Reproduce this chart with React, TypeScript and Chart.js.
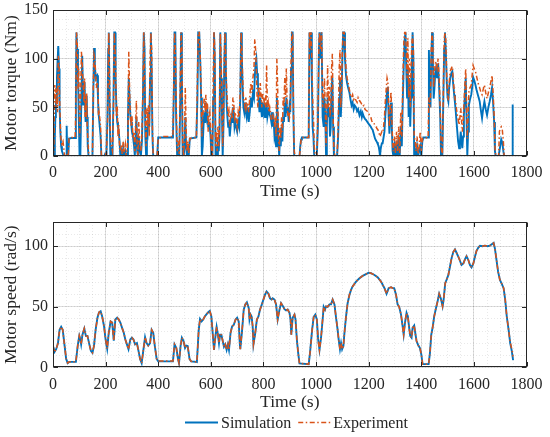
import React, { useEffect, useRef } from "react";
import { Chart, registerables } from "chart.js";

Chart.register(...registerables);

// ---------------- data ----------------
const seriesNames = ["Simulation", "Experiment"];

const torqueTime = [
  0, 3, 5, 7, 9, 11, 13, 15, 17, 20, 23, 25, 28, 31, 34, 38, 41, 44, 50, 52, 54, 58,
  61, 70, 84, 87, 89, 92, 95, 98, 101, 104, 108, 111, 115, 118, 120, 122, 124, 127, 128, 130, 132, 135, 137, 150,
  153, 156, 159, 162, 165, 168, 171, 173, 175, 178, 181, 184, 195, 198, 203, 207, 210, 212, 215, 218, 222, 226, 230, 233, 236, 238, 241, 244, 247, 250, 253, 256,
  260, 263, 267, 270, 275, 278, 282, 285, 288, 291, 294, 297, 300, 304, 308, 311, 314, 317, 320, 323, 326, 330, 334, 338, 342, 345, 348, 351, 354, 357, 360, 363, 366, 369, 372, 375, 378, 381, 396,
  400, 420, 456, 459, 462, 465, 468, 472, 476, 480, 484, 487, 490, 493, 497, 500, 503, 506, 509, 513, 516, 520, 545,
  549, 552, 556, 560, 563, 566, 569, 572, 575, 578, 581, 584, 587, 590, 593, 596, 599, 602, 606, 609, 612, 615, 618, 621, 624, 627, 630, 633, 636, 639, 642, 645,
  648, 651, 654, 657, 660, 663, 666, 669, 672, 675, 678, 681, 684, 687, 690, 693, 696, 700, 704, 708, 712, 715, 718, 721, 724, 727, 730, 733, 736, 740, 744, 748,
  752, 756, 760, 764, 767, 770, 773, 776, 779, 782, 785, 788, 791, 794, 797, 800, 803, 806, 809, 812, 815, 818, 821, 824, 827, 830, 833, 836, 839, 842, 845, 848, 851,
  854, 857, 860, 863, 866, 869, 872, 875, 878, 881, 884, 887, 890, 893, 896, 899, 902, 905, 908, 911, 914, 917, 920, 937, 940, 943, 946, 972, 975, 978, 981, 984, 987, 990, 993, 997, 1003,
  1007, 1011, 1013, 1017, 1021, 1025, 1029, 1032, 1035, 1038, 1041, 1044, 1047, 1050, 1053, 1056, 1059, 1062, 1065, 1068, 1072, 1080, 1084, 1088, 1091, 1094, 1097, 1100, 1103, 1107, 1110,
  1114, 1118, 1122, 1127, 1131, 1135, 1139, 1143, 1147, 1152, 1156, 1160, 1165, 1170, 1174, 1177, 1182, 1186, 1190, 1195, 1200, 1203, 1208, 1212, 1215, 1220, 1224, 1228, 1232, 1235, 1238, 1241, 1243, 1246, 1250, 1253, 1256,
  1260, 1263, 1267, 1270, 1273, 1276, 1279, 1282, 1285, 1288, 1291, 1294, 1298, 1302, 1306, 1310, 1314, 1318, 1322, 1326, 1330, 1334, 1337, 1340, 1343, 1346, 1349, 1352, 1355, 1358, 1361, 1364, 1367, 1370, 1373, 1377, 1380, 1384, 1388, 1392, 1396, 1400, 1404, 1408, 1426,
  1429, 1432, 1435, 1438, 1441, 1444, 1447, 1450, 1453, 1456, 1460, 1464, 1468, 1472, 1475, 1480, 1484, 1487, 1490, 1493, 1497, 1500, 1503, 1506, 1510, 1514, 1518, 1521, 1525, 1528, 1531,
  1534, 1537, 1540, 1544, 1547, 1550, 1553, 1556, 1559, 1562, 1566, 1569, 1572, 1575, 1578, 1581, 1585, 1590, 1594, 1597, 1601, 1606, 1610, 1615, 1618, 1622, 1626, 1631, 1635, 1640, 1645, 1650, 1655, 1660, 1665, 1669, 1673, 1677, 1680, 1683, 1694, 1697, 1700, 1704, 1708, 1712, 1715, 1746, 1747, 1748,
];

const simTorque = [
  30, 30, 0, 20, 40, 55, 60, 80, 95, 113, 90, 52, 25, 10, 5, 2, 0, 0, 0, 31, 0, 0,
  18, 18.5, 18.5, 60, 127, 110, 87, 40, 0, 0, 60, 103, 52, 75, 76, 50, 35, 55, 62, 40, 11, 0, 0, 0,
  60, 111, 95, 80, 82, 83, 60, 45, 39, 39, 20, 0, 0, 2, 0, 40, 110, 127, 60, 0, 5, 0, 60, 127, 127, 80, 50, 35, 30, 25, 15, 0,
  5, 0, 8, 0, 5, 0, 2, 40, 80, 60, 42, 35, 25, 20, 11, 0, 20, 40, 5, 0, 20, 5, 0, 15, 60, 127, 110, 20, 0, 30, 25, 45, 30, 80, 127, 90, 20, 0, 0,
  19, 19, 19, 60, 127, 127, 40, 0, 5, 0, 60, 127, 80, 0, 0, 10, 40, 10, 0, 5, 0, 18, 19,
  60, 127, 127, 95, 60, 0, 10, 30, 45, 35, 55, 40, 45, 30, 35, 30, 20, 0, 0, 60, 127, 100, 0, 10, 0, 15, 5, 20, 127, 80, 50, 0,
  30, 90, 127, 90, 55, 40, 30, 35, 20, 30, 40, 35, 50, 45, 30, 35, 30, 25, 35, 30, 60, 127, 100, 70, 50, 45, 55, 45, 40, 50, 35, 45,
  60, 50, 65, 60, 80, 95, 100, 85, 75, 55, 45, 60, 50, 40, 55, 45, 50, 40, 45, 55, 40, 45, 50, 42, 40, 35, 45, 30, 35, 20, 25, 10, 60,
  40, 15, 0, 20, 10, 30, 15, 40, 35, 55, 40, 60, 45, 50, 35, 50, 45, 90, 127, 127, 40, 0, 0, 0, 10, 17, 19, 19, 127, 100, 127, 80, 30, 20, 0, 0, 0,
  30, 110, 127, 100, 127, 40, 30, 60, 40, 0, 30, 60, 40, 50, 20, 30, 70, 80, 30, 0, 0, 0, 20, 60, 80, 40, 60, 100, 127, 127, 100,
  82, 75, 70, 65, 58, 52, 55, 48, 52, 50, 46, 48, 42, 46, 40, 44, 40, 38, 37, 35, 33, 32, 30, 28, 27, 22, 18, 16, 14, 12, 10, 5, 0, 8, 13, 13, 18,
  25, 40, 55, 68, 71, 40, 23, 40, 55, 30, 5, 0, 10, 0, 15, 0, 20, 0, 30, 10, 60, 100, 120, 127, 90, 60, 90, 40, 80, 30, 60, 90, 127, 100, 0, 5, 0, 10, 0, 5, 10, 0, 15, 19, 19,
  109, 60, 50, 100, 127, 100, 59, 70, 85, 90, 80, 95, 70, 40, 0, 0, 60, 110, 127, 110, 75, 60, 56, 70, 80, 85, 87, 75, 63, 55, 46,
  35, 25, 15, 8, 15, 25, 15, 8, 20, 42, 65, 80, 40, 0, 25, 52, 58, 63, 72, 81, 78, 73, 68, 63, 60, 56, 48, 39, 48, 56, 48, 42, 50, 56, 63, 70, 55, 35, 5, 0, 0, 5, 10, 17, 14, 5, 0, 0, 0, 53,
];

const expTorque = [
  0, 5, 40, 73, 55, 70, 50, 68, 45, 103, 95, 60, 30, 15, 12, 15, 8, 0, 0, 2, 0, 0,
  18, 19, 19, 50, 127, 120, 69, 90, 20, 40, 107, 95, 70, 55, 80, 40, 60, 40, 65, 30, 20, 5, 0, 0,
  70, 104, 100, 85, 70, 76, 70, 42, 45, 38, 30, 0, 0, 3, 1, 30, 90, 127, 80, 20, 10, 5, 50, 127, 110, 95, 40, 52, 20, 32, 10, 5,
  12, 2, 15, 3, 12, 0, 8, 20, 107, 70, 40, 30, 42, 18, 25, 5, 30, 57, 10, 0, 35, 10, 5, 25, 70, 127, 80, 35, 10, 50, 30, 52, 20, 100, 127, 110, 30, 0, 0,
  18, 20, 20, 70, 127, 110, 60, 5, 15, 2, 80, 127, 110, 10, 0, 20, 70, 30, 5, 15, 2, 18, 19,
  80, 127, 127, 100, 70, 20, 40, 50, 60, 45, 63, 50, 55, 25, 40, 45, 30, 5, 2, 80, 127, 110, 10, 25, 5, 30, 10, 35, 126, 100, 60, 10,
  40, 100, 127, 100, 70, 55, 40, 45, 30, 40, 45, 38, 60, 55, 40, 45, 38, 30, 45, 40, 70, 127, 110, 80, 60, 55, 50, 60, 50, 55, 45, 60,
  75, 65, 80, 90, 120, 110, 90, 60, 50, 70, 60, 75, 62, 50, 65, 60, 55, 58, 50, 93, 50, 55, 45, 50, 45, 36, 40, 42, 38, 30, 40, 20, 100,
  71, 20, 5, 30, 18, 40, 25, 60, 50, 80, 60, 90, 55, 40, 45, 40, 50, 100, 127, 127, 50, 5, 0, 0, 8, 17, 19, 19, 127, 110, 127, 100, 60, 40, 10, 0, 0,
  40, 115, 127, 110, 127, 50, 60, 80, 50, 10, 50, 93, 50, 71, 40, 50, 90, 105, 40, 5, 0, 0, 30, 90, 109, 50, 70, 110, 127, 127, 115,
  90, 80, 75, 68, 62, 60, 63, 58, 60, 57, 55, 60, 57, 55, 53, 51, 52, 48, 47, 46, 44, 42, 40, 36, 34, 34, 31, 30, 28, 27, 25, 22, 20, 22, 25, 24, 28,
  40, 55, 70, 80, 76, 50, 30, 50, 66, 40, 15, 5, 20, 3, 25, 5, 30, 3, 45, 20, 80, 120, 127, 127, 110, 80, 121, 60, 100, 50, 90, 115, 124, 110, 20, 15, 5, 20, 2, 10, 25, 5, 18, 18, 19,
  60, 50, 60, 110, 127, 115, 70, 85, 95, 97, 90, 100, 80, 50, 10, 0, 70, 120, 127, 120, 80, 65, 57, 75, 87, 90, 92, 80, 68, 60, 55,
  48, 42, 38, 32, 40, 49, 38, 25, 35, 52, 75, 90, 50, 18, 40, 66, 70, 73, 85, 93, 90, 87, 82, 76, 73, 70, 66, 63, 68, 73, 65, 59, 65, 70, 77, 83, 65, 42, 10, 0, 0, 25, 28, 30, 27, 15, 0, 0, null, null,
];

const speedTime = [
  0, 6, 12, 19, 25, 31, 37, 44, 50, 56,
  62, 87, 94, 100, 104, 107, 112, 119, 125, 131,
  137, 144, 150, 156, 162, 169, 175, 181, 187, 194,
  200, 206, 212, 219, 225, 231, 237, 244, 250, 256,
  262, 269, 275, 281, 287, 294, 300, 306, 312, 319,
  325, 331, 337, 344, 350, 356, 362, 369, 375, 381,
  387, 394, 400, 456, 462, 469, 475, 479, 485, 490,
  496, 502, 507, 512, 519, 525, 547, 554, 559, 565,
  571, 577, 584, 590, 596, 602, 609, 612, 619, 622,
  627, 631, 635, 640, 645, 650, 655, 660, 665, 669,
  675, 681, 687, 694, 700, 706, 710, 712, 719, 725,
  731, 737, 744, 747, 751, 755, 759, 762, 769, 775,
  781, 787, 794, 800, 806, 812, 819, 825, 831, 835,
  842, 848, 854, 861, 867, 873, 880, 886, 892, 899,
  903, 906, 911, 918, 922, 927, 932, 937, 972, 977,
  985, 991, 997, 1003, 1008, 1013, 1019, 1025, 1029, 1034,
  1038, 1044, 1051, 1057, 1063, 1070, 1076, 1082, 1086, 1091,
  1095, 1099, 1104, 1108, 1114, 1120, 1127, 1133, 1139, 1152,
  1165, 1177, 1190, 1200, 1209, 1222, 1234, 1247, 1260, 1268,
  1276, 1285, 1291, 1297, 1304, 1310, 1316, 1323, 1329, 1333,
  1338, 1344, 1349, 1354, 1358, 1363, 1367, 1373, 1377, 1382,
  1389, 1395, 1400, 1405, 1428, 1433, 1438, 1443, 1449, 1456,
  1462, 1468, 1475, 1481, 1485, 1491, 1496, 1503, 1509, 1515,
  1522, 1528, 1534, 1541, 1547, 1553, 1560, 1566, 1572, 1579,
  1585, 1591, 1598, 1604, 1610, 1617, 1623, 1633, 1642, 1652,
  1661, 1668, 1675, 1680, 1686, 1692, 1699, 1706, 1713, 1719,
  1725, 1732, 1738, 1744, 1749,
];

const simSpeed = [
  17.7, 12.8, 15, 20, 31, 33.5, 31, 18, 7, 3.5,
  4.6, 4.6, 18, 26, 23, 19, 27, 32, 26, 26,
  20, 13.6, 12, 18, 31, 41, 45.5, 46.3, 42, 34,
  23, 15.5, 28.6, 38, 37, 22, 39.5, 41, 39.5, 37,
  33, 28.6, 23, 19, 15, 23, 24.5, 23, 19, 20,
  13.6, 7, 3.5, 15, 25, 20, 18, 20, 31, 28.6,
  17.7, 7, 5, 5, 19, 16, 7, 3.5, 17.7, 24.5,
  22, 16, 18, 17.7, 7, 5, 4.5, 31, 40, 38,
  39.5, 42, 44, 45.5, 46.6, 42, 23, 14.4, 28.6, 33.5,
  27, 20, 27, 27, 22, 17, 19, 14.4, 19, 14.4,
  28.6, 34, 35, 39.5, 41, 38, 20, 15, 31, 47.7,
  52, 53.7, 49, 39.5, 43.6, 42, 34, 19, 28.6, 39.5,
  42, 47.7, 52, 56, 60, 62.7, 60.8, 57, 56, 57,
  56, 52, 39.5, 47.7, 53, 51, 48, 47, 47.7, 45,
  39.5, 27, 41, 43.6, 39.5, 23, 12, 3.3, 2.7, 12,
  31, 41.7, 43.6, 39.5, 23, 14.4, 24.5, 39.5, 50, 47.7,
  50.4, 50, 52, 52, 56, 52, 41, 31, 23, 15,
  20, 15, 17.7, 28.6, 42, 53, 60, 64, 66.8, 70.8,
  73.6, 75.5, 77, 78.2, 77.7, 76.3, 74.4, 70.8, 65.4, 60.8,
  65.4, 66.2, 65.4, 65.4, 60, 52, 50, 43.6, 34, 27,
  36.8, 45, 42, 32.7, 26, 24.5, 32.7, 34.6, 28.6, 21.8,
  18, 16, 10.9, 2.7, 2.7, 12, 27, 32.7, 42, 49,
  54.5, 60.8, 56.4, 50.4, 56, 69.5, 72.2, 76.3, 83.1, 90,
  95.4, 97.3, 94.6, 91.3, 88, 84.5, 85.8, 89.1, 91.8, 88.6,
  84.5, 82.6, 85.8, 91.3, 96.2, 98.9, 100.3, 100, 100.5, 100,
  100.5, 101.6, 102.7, 98, 88.6, 79, 72.2, 69, 65.4, 56,
  42, 31, 20, 13.6, 6,
];

const expSpeed = [
  17.9, 12.6, 15.2, 20, 31.2, 33.6, 31, 18, 7.2, 3.6,
  4.7, 4.7, 18, 26.2, 23, 19, 27, 32.2, 26, 26,
  20, 13.6, 12, 18, 31, 41, 45.6, 46.4, 42, 34,
  23, 15.5, 28.6, 38, 37, 22, 39.5, 41, 39.5, 37,
  33, 28.6, 23, 19, 15, 23, 24.5, 23, 19, 20,
  13.6, 7, 3.5, 15, 25, 20, 18, 20, 31, 28.6,
  17.7, 7, 5.2, 5.2, 19, 16, 7, 3.5, 17.7, 24.5,
  22, 16, 18, 17.7, 7, 5, 4.5, 31, 40, 38,
  39.5, 42, 44, 45.5, 46.6, 42, 23, 14.4, 28.6, 33.5,
  27, 20, 27, 27, 22, 17, 19, 14.4, 19, 14.4,
  28.6, 34, 35, 39.5, 41, 38, 20, 15, 31, 47.7,
  52, 53.7, 49, 39.5, 43.6, 42, 34, 19, 28.6, 39.5,
  42, 47.7, 52, 56, 60, 62.7, 60.8, 57, 56, 57,
  56, 52, 39.5, 47.7, 53, 51, 48, 47, 47.7, 45,
  39.5, 27, 41, 43.6, 39.5, 23, 12, 3.3, 2.7, 12,
  31, 41.7, 43.6, 39.5, 23, 14.4, 24.5, 39.5, 50, 47.7,
  50.4, 50, 52, 52, 56, 52, 41, 31, 23, 15,
  20, 15, 17.7, 28.6, 42, 53, 60, 64, 66.8, 70.8,
  73.6, 75.5, 77, 78.2, 77.7, 76.3, 74.4, 70.8, 65.4, 60.8,
  65.4, 66.2, 65.4, 65.4, 60, 52, 50, 43.6, 34, 27,
  36.8, 45, 42, 32.7, 26, 24.5, 32.7, 34.6, 28.6, 21.8,
  18, 16, 10.9, 2.7, 2.7, 12, 27, 32.7, 42, 49,
  54.5, 60.8, 56.4, 50.4, 56, 69.5, 72.2, 76.3, 83.1, 90,
  95.4, 97.3, 94.6, 91.3, 88, 84.5, 85.8, 89.1, 91.8, 88.6,
  84.5, 82.6, 85.8, 91.3, 96.2, 98.9, 100.3, 100, 100.5, 100,
  100.5, 101.6, 102.7, 98, 88.6, 79, 72.2, 69, 65.4, 56,
  42, 31, 21, 15, 9,
];

const timeTicks = [0, 200, 400, 600, 800, 1000, 1200, 1400, 1600, 1800];
const torqueTicks = [0, 50, 100, 150];
const speedTicks = [0, 50, 100];

// ---------------- style ----------------
const FONT = "'Liberation Serif', 'Times New Roman', serif";
const TEXT = "#262626";
const BLUE = "#0072BD";
const ORANGE = "#D95319";
const MAJOR_GRID = "rgba(38,38,38,0.15)";
const MINOR_GRID = "rgba(38,38,38,0.13)";
const seriesColors = [BLUE, ORANGE];
const seriesWidths = [1.9, 1.5];
const seriesDash: number[][] = [[], [5, 2.5, 1.5, 2.5]];

function minorValues(max: number, step: number) {
  const out: number[] = [];
  for (let v = 0; v <= max + 1e-9; v += step) out.push(v);
  return out;
}

const boxPlugin = {
  id: "matlabBox",
  afterDatasetsDraw(chart: any) {
    const { ctx, chartArea: a, scales } = chart;
    const L = Math.round(a.left) + 0.5;
    const R = Math.round(a.right) - 0.5;
    const T = Math.round(a.top) + 0.5;
    const B = Math.round(a.bottom) - 0.5;
    const tl = 4.5;
    ctx.save();
    ctx.strokeStyle = TEXT;
    ctx.lineWidth = 1;
    ctx.setLineDash([]);
    ctx.strokeRect(L, T, R - L, B - T);
    ctx.beginPath();
    scales.x.ticks.forEach((t: any) => {
      const px = Math.round(scales.x.getPixelForValue(t.value)) + 0.5;
      ctx.moveTo(px, B);
      ctx.lineTo(px, B - tl);
      ctx.moveTo(px, T);
      ctx.lineTo(px, T + tl);
    });
    scales.y.ticks.forEach((t: any) => {
      const py = Math.round(scales.y.getPixelForValue(t.value)) + 0.5;
      ctx.moveTo(L, py);
      ctx.lineTo(L + tl, py);
      ctx.moveTo(R, py);
      ctx.lineTo(R - tl, py);
    });
    ctx.stroke();
    ctx.restore();
  },
};

const legendPlugin = {
  id: "bottomLegend",
  afterDraw(chart: any) {
    const ctx = chart.ctx;
    ctx.save();
    ctx.font = `16px ${FONT}`;
    ctx.fillStyle = TEXT;
    ctx.textBaseline = "alphabetic";
    ctx.textAlign = "left";
    let x = 185;
    const lineY = 216.5;
    const textY = 222.3;
    chart.data.datasets.forEach((ds: any, i: number) => {
      ctx.strokeStyle = seriesColors[i];
      ctx.lineWidth = seriesWidths[i];
      ctx.setLineDash(seriesDash[i]);
      ctx.beginPath();
      ctx.moveTo(x, lineY);
      ctx.lineTo(x + 33, lineY);
      ctx.stroke();
      ctx.setLineDash([]);
      x += 33 + (i === 0 ? 3 : 2);
      ctx.fillText(ds.label, x, textY);
      x += ctx.measureText(ds.label).width + 7;
    });
    ctx.restore();
  },
};

function makeConfig(o: {
  time: number[];
  sim: (number | null)[];
  exp: (number | null)[];
  yMax: number;
  yTicks: number[];
  yTitle: string;
  padding: any;
  legend: boolean;
}) {
  const tickFont = { family: FONT, size: 16 };
  const yTickFont = { family: FONT, size: 16, lineHeight: 0.5 };
  const titleFont = { family: FONT, size: 17.6 };
  const xMinor = minorValues(1800, 50);
  const yMinor = minorValues(o.yMax, 10);
  return {
    type: "line" as const,
    data: {
      datasets: [
        {
          label: seriesNames[0],
          data: o.time.map((t, i) => ({ x: t, y: o.sim[i] })),
          borderColor: BLUE,
          borderWidth: seriesWidths[0],
          pointRadius: 0,
          tension: 0,
          fill: false,
          order: 2,
        },
        {
          label: seriesNames[1],
          data: o.time.map((t, i) => ({ x: t, y: o.exp[i] })),
          borderColor: ORANGE,
          borderWidth: seriesWidths[1],
          borderDash: seriesDash[1],
          pointRadius: 0,
          tension: 0,
          fill: false,
          order: 1,
        },
      ],
    },
    options: {
      responsive: false,
      animation: false as const,
      events: [],
      layout: { padding: o.padding, autoPadding: false },
      plugins: { legend: { display: false }, tooltip: { enabled: false } },
      scales: {
        x: {
          type: "linear" as const,
          position: "bottom" as const,
          min: 0,
          max: 1800,
          afterBuildTicks: (s: any) => {
            s.ticks = timeTicks.map((v) => ({ value: v }));
          },
          afterFit: (s: any) => {
            s.height = 50;
          },
          ticks: {
            font: tickFont,
            color: TEXT,
            padding: 7.5,
            autoSkip: false,
            maxRotation: 0,
            callback: (v: any) => String(v),
          },
          grid: { color: MAJOR_GRID, lineWidth: 1, drawTicks: false },
          border: { display: false },
          title: {
            display: true,
            text: "Time (s)",
            font: titleFont,
            color: TEXT,
            padding: { top: 0, bottom: 4 },
          },
        },
        xMinor: {
          type: "linear" as const,
          position: "bottom" as const,
          min: 0,
          max: 1800,
          afterBuildTicks: (s: any) => {
            s.ticks = xMinor.map((v) => ({ value: v }));
          },
          afterFit: (s: any) => {
            s.height = 0;
          },
          ticks: { display: false },
          grid: { color: MINOR_GRID, lineWidth: 0.8, drawTicks: false },
          border: { display: false, dash: [1, 2] },
        },
        y: {
          type: "linear" as const,
          position: "left" as const,
          min: 0,
          max: o.yMax,
          afterBuildTicks: (s: any) => {
            s.ticks = o.yTicks.map((v) => ({ value: v }));
          },
          afterFit: (s: any) => {
            s.width = 53;
          },
          ticks: { font: yTickFont, color: TEXT, padding: 5, callback: (v: any) => String(v) },
          grid: { color: MAJOR_GRID, lineWidth: 1, drawTicks: false },
          border: { display: false },
          title: {
            display: true,
            text: o.yTitle,
            font: titleFont,
            color: TEXT,
            padding: { top: 1, bottom: 0 },
          },
        },
        yMinor: {
          type: "linear" as const,
          position: "left" as const,
          min: 0,
          max: o.yMax,
          afterBuildTicks: (s: any) => {
            s.ticks = yMinor.map((v) => ({ value: v }));
          },
          afterFit: (s: any) => {
            s.width = 0;
          },
          ticks: { display: false },
          grid: { color: MINOR_GRID, lineWidth: 0.8, drawTicks: false },
          border: { display: false, dash: [1, 2] },
        },
      },
    },
    plugins: o.legend ? [boxPlugin, legendPlugin] : [boxPlugin],
  };
}

export default function App() {
  const topRef = useRef<HTMLCanvasElement>(null);
  const botRef = useRef<HTMLCanvasElement>(null);

  useEffect(() => {
    const c1 = new Chart(
      topRef.current as HTMLCanvasElement,
      makeConfig({
        time: torqueTime,
        sim: simTorque,
        exp: expTorque,
        yMax: 150,
        yTicks: torqueTicks,
        yTitle: "Motor torque (Nm)",
        padding: { top: 10, right: 20, bottom: 0, left: 0 },
        legend: false,
      }) as any
    );
    const c2 = new Chart(
      botRef.current as HTMLCanvasElement,
      makeConfig({
        time: speedTime,
        sim: simSpeed,
        exp: expSpeed,
        yMax: 120,
        yTicks: speedTicks,
        yTitle: "Motor speed (rad/s)",
        padding: { top: 16, right: 20, bottom: 19.6, left: 0 },
        legend: true,
      }) as any
    );
    return () => {
      c1.destroy();
      c2.destroy();
    };
  }, []);

  return (
    <div
      style={{
        position: "absolute",
        left: 0,
        top: 0,
        width: 550,
        height: 437,
        background: "#ffffff",
        overflow: "hidden",
      }}
    >
      <canvas
        ref={topRef}
        width={550}
        height={206}
        style={{ position: "absolute", left: 0, top: 0, width: 550, height: 206 }}
      />
      <canvas
        ref={botRef}
        width={550}
        height={231}
        style={{ position: "absolute", left: 0, top: 206, width: 550, height: 231 }}
      />
    </div>
  );
}
